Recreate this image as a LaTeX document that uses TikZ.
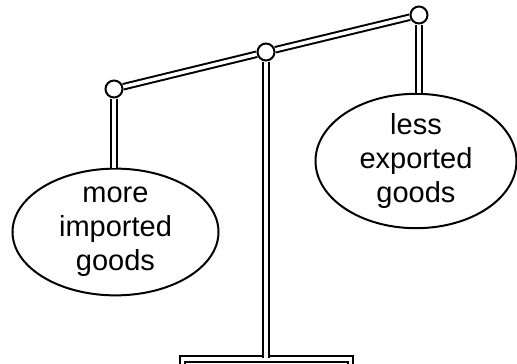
\documentclass[tikz,border=0pt]{standalone}
\usepackage{fontspec}
\setmainfont{Liberation Sans}
\usetikzlibrary{shapes.geometric}

\begin{document}
\begin{tikzpicture}
        [x=1pt,y=-1pt]
            \tikzstyle{pivot}=[circle, draw, fill=white, line width=2pt,
        inner sep=0pt, minimum size=17pt]
            \tikzstyle{pan}=[ellipse, draw, line width=2pt, inner sep=0pt,
        align=center, font=\fontsize{29}{34}\selectfont]
            \tikzstyle{rod}=[double, double distance=3.5pt, line width=2pt]
        \useasboundingbox (0,0) rectangle (517,364);
        \clip (0,0) rectangle (517,364);
        %-----pans
         \node[pan, minimum width=206pt, minimum height=124pt] (more) at (115.5,232) {more\\imported\\goods};
         \node[pan, minimum width=201pt, minimum height=128pt] (less) at (416,161) {less\\exported\\goods};
        %-----base
         \node[rod, rectangle, draw, minimum width=168pt, minimum height=30pt] (base) at (266.5,374) {};
        %-----pivots
         \node[pivot] (pl) at (114,89) {};
         \node[pivot] (pm) at (266,52) {};
         \node[pivot] (pr) at (419,15) {};

         \draw[rod] (pm) -- (pm |- base.north);
         \draw[rod] (pl) -- (pl |- more.north);
         \draw[rod] (pr) -- (pr |- less.north);
         \draw[rod] (pl) -- (pm) -- (pr);
        \end{tikzpicture}
\end{document}
